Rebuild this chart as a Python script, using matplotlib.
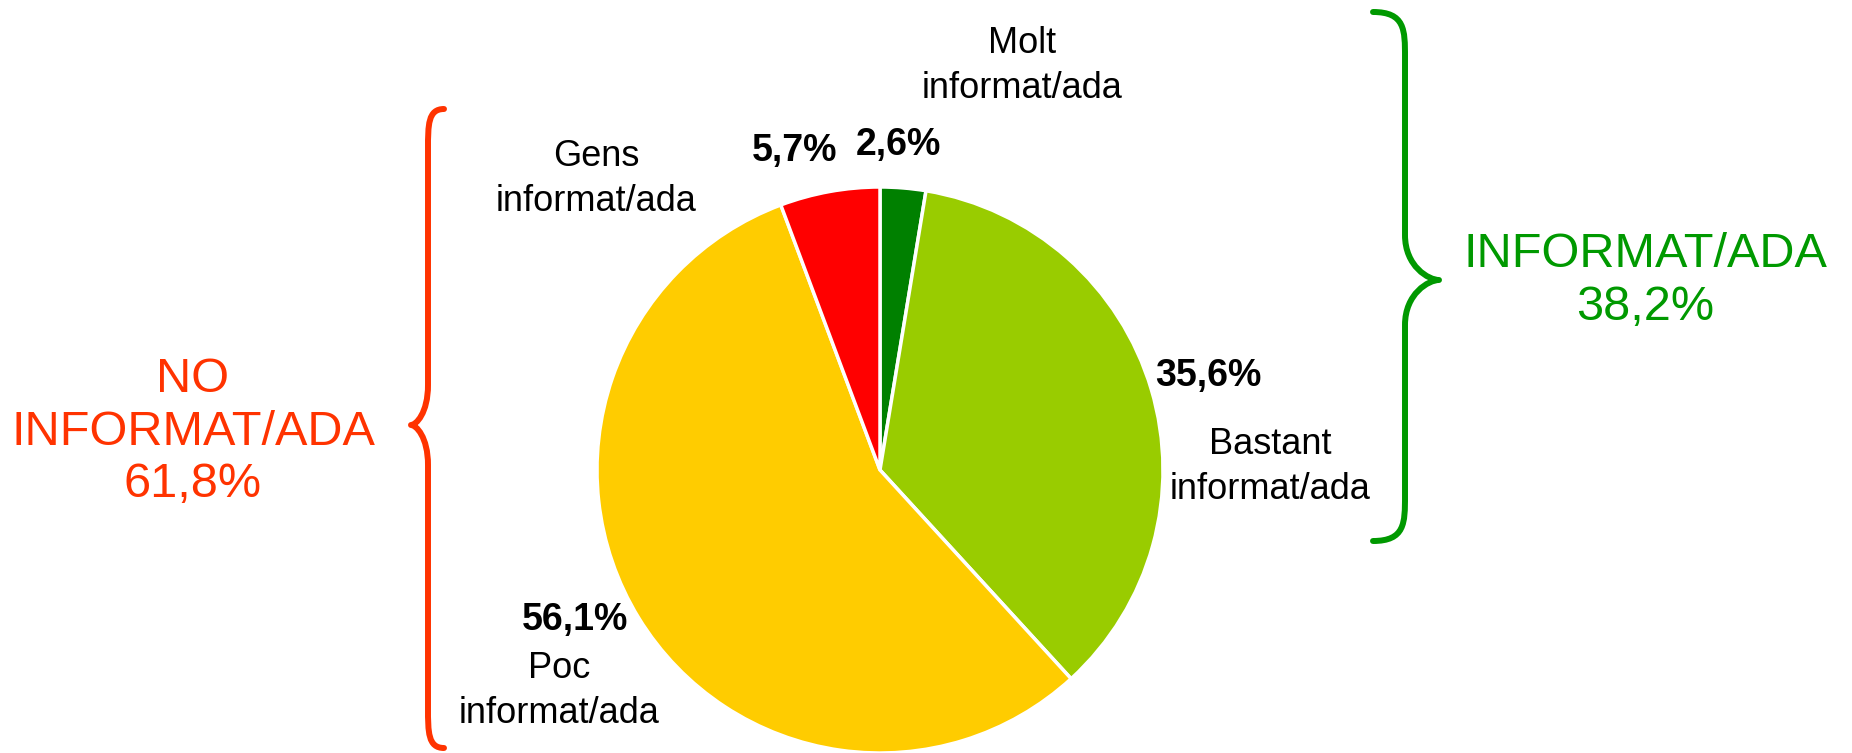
import matplotlib.pyplot as plt
from matplotlib.path import Path
from matplotlib.patches import PathPatch

# data
categories = ['Molt\ninformat/ada', 'Bastant\ninformat/ada', 'Poc\ninformat/ada', 'Gens\ninformat/ada']
values = [2.6, 35.6, 56.1, 5.7]
pct_labels = ['2,6%', '35,6%', '56,1%', '5,7%']
colors = ['#008000', '#99CC00', '#FFCC00', '#FF0000']
group_labels = ['INFORMAT/ADA\n38,2%', 'NO\nINFORMAT/ADA\n61,8%']
group_colors = ['#009900', '#FF3300']

W, H = 1852, 753

plt.rcParams['font.family'] = ['Liberation Sans', 'DejaVu Sans']
fig = plt.figure(figsize=(W / 100, H / 100), dpi=100)
ax = fig.add_axes([0, 0, 1, 1])


def up(y):
    # image rows (top down) to axes coords (bottom up)
    return H - y


ax.pie(values, colors=colors, startangle=90, counterclock=False,
       center=(880, up(470)), radius=283,
       wedgeprops=dict(edgecolor='white', linewidth=2.5))
ax.set_xlim(0, W)
ax.set_ylim(0, H)
ax.set_aspect('equal')
ax.axis('off')

# label positions (pixels from top-left)
name_pos = [(1022, 66), (1270, 467), (559, 691), (596, 179)]
pct_pos = [(898, 145), (1208, 376), (575, 620), (795, 151)]

for name, (x, y) in zip(categories, name_pos):
    ax.text(x, up(y), name, ha='center', va='center', fontsize=26,
            linespacing=1.35, color='black')
for p, (x, y) in zip(pct_labels, pct_pos):
    ax.text(x, up(y), p, ha='center', va='center', fontsize=27,
            fontweight='bold', color='black')


def brace(x_end, x_spine, x_tip, y_top, y_bot, y_tip, r=40, color='k'):
    s = lambda y: up(y)
    verts = [
        (x_end, s(y_top)),
        (x_spine, s(y_top)), (x_spine, s(y_top + r * 0.4)), (x_spine, s(y_top + r)),
        (x_spine, s(y_tip - r)),
        (x_spine, s(y_tip - r * 0.3)), (x_tip + (x_spine - x_tip) * 0.3, s(y_tip)), (x_tip, s(y_tip)),
        (x_tip + (x_spine - x_tip) * 0.3, s(y_tip)), (x_spine, s(y_tip + r * 0.3)), (x_spine, s(y_tip + r)),
        (x_spine, s(y_bot - r)),
        (x_spine, s(y_bot - r * 0.4)), (x_spine, s(y_bot)), (x_end, s(y_bot)),
    ]
    codes = [Path.MOVETO,
             Path.CURVE4, Path.CURVE4, Path.CURVE4,
             Path.LINETO,
             Path.CURVE4, Path.CURVE4, Path.CURVE4,
             Path.CURVE4, Path.CURVE4, Path.CURVE4,
             Path.LINETO,
             Path.CURVE4, Path.CURVE4, Path.CURVE4]
    ax.add_patch(PathPatch(Path(verts, codes), facecolor='none', edgecolor=color,
                           lw=4.3, capstyle='round', joinstyle='round'))


brace(1373, 1405, 1439, 12, 541, 280, r=45, color=group_colors[0])
brace(444, 428, 411, 109, 748, 425, r=40, color=group_colors[1])

ax.text(1645, up(281), group_labels[0], ha='center', va='center', fontsize=35,
        linespacing=1.22, color=group_colors[0])
ax.text(193, up(432), group_labels[1], ha='center', va='center', fontsize=35,
        linespacing=1.22, color=group_colors[1])

fig.savefig('out.png', dpi=100)
